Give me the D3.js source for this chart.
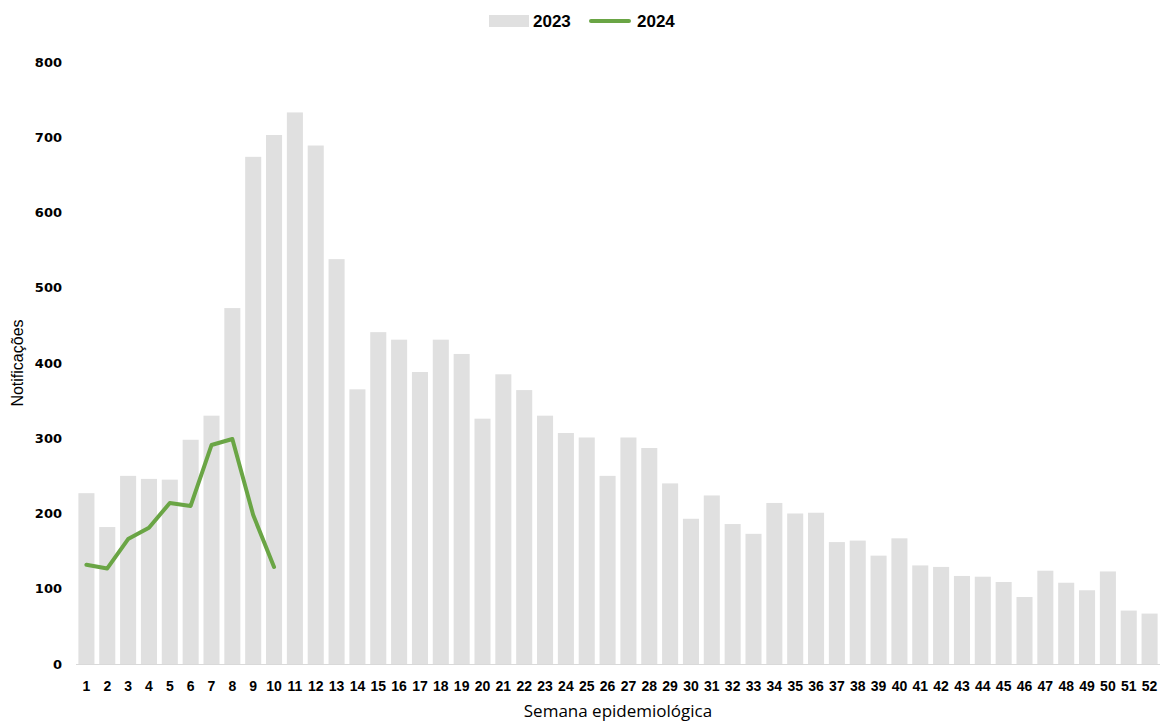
<!DOCTYPE html>
<html>
<head>
<meta charset="utf-8">
<script src="https://cdn.jsdelivr.net/npm/d3@7"></script>
<style>
  body { margin: 0; background: #fff; }
  svg { display: block; }
</style>
</head>
<body>
<div id="chart"></div>
<script>
const WIDTH = 1161;
const HEIGHT = 724;
const MARGINS = {left: 76, right: 1, top: 62, bottom: 60};

// weeks 1..52
const weeks = d3.range(1, 53);

// 2023 weekly notifications (bars)
const values2023 = [227, 182, 250, 246, 245, 298, 330, 473, 674, 703,
                    733, 689, 538, 365, 441, 431, 388, 431, 412, 326,
                    385, 364, 330, 307, 301, 250, 301, 287, 240, 193,
                    224, 186, 173, 214, 200, 201, 162, 164, 144, 167,
                    131, 129, 117, 116, 109, 89, 124, 108, 98, 123,
                    71, 67];

// 2024 weekly notifications (line, weeks 1..10)
const values2024 = [132, 127, 166, 181, 214, 210, 291, 299, 198, 129];

const yTicks = [0, 100, 200, 300, 400, 500, 600, 700, 800];

const VIS_WIDTH = WIDTH - MARGINS.left - MARGINS.right;
const VIS_HEIGHT = HEIGHT - MARGINS.top - MARGINS.bottom;

const svg = d3.select("#chart")
  .append("svg")
    .attr("width", WIDTH)
    .attr("height", HEIGHT);

const X_SCALE = d3.scaleBand()
  .domain(weeks)
  .range([MARGINS.left, MARGINS.left + VIS_WIDTH])
  .paddingInner(0.23)
  .paddingOuter(0.115);

const Y_SCALE = d3.scaleLinear()
  .domain([0, 800])
  .range([MARGINS.top + VIS_HEIGHT, MARGINS.top]);

// bars 2023
svg.selectAll(".bar")
  .data(weeks)
  .enter()
  .append("rect")
    .attr("class", "bar")
    .attr("x", d => X_SCALE(d))
    .attr("y", (d, i) => Y_SCALE(values2023[i]))
    .attr("width", X_SCALE.bandwidth())
    .attr("height", (d, i) => Y_SCALE(0) - Y_SCALE(values2023[i]))
    .attr("fill", "#e0e0e0");

// baseline
svg.append("line")
  .attr("x1", MARGINS.left)
  .attr("x2", MARGINS.left + VIS_WIDTH)
  .attr("y1", Y_SCALE(0) + 0.5)
  .attr("y2", Y_SCALE(0) + 0.5)
  .attr("stroke", "#d9d9d9")
  .attr("stroke-width", 1);

// line 2024
const line = d3.line()
  .x((d, i) => X_SCALE(weeks[i]) + X_SCALE.bandwidth() / 2)
  .y(d => Y_SCALE(d));

svg.append("path")
  .datum(values2024)
  .attr("d", line)
  .attr("fill", "none")
  .attr("stroke", "#6aa545")
  .attr("stroke-width", 4)
  .attr("stroke-linejoin", "round")
  .attr("stroke-linecap", "round");

// y axis
const yAxis = svg.append("g")
  .attr("transform", "translate(" + (MARGINS.left - 14) + ",0)")
  .call(d3.axisLeft(Y_SCALE).tickValues(yTicks).tickSize(0).tickPadding(0));
yAxis.select(".domain").remove();
yAxis.selectAll("text")
  .attr("font-family", "DejaVu Sans, sans-serif")
  .attr("font-weight", "bold")
  .attr("font-size", "13px")
  .attr("fill", "#000");

// x axis
const xAxis = svg.append("g")
  .attr("transform", "translate(0," + Y_SCALE(0) + ")")
  .call(d3.axisBottom(X_SCALE).tickSize(0).tickPadding(17));
xAxis.select(".domain").remove();
xAxis.selectAll("text")
  .attr("font-family", "Liberation Sans Narrow, Liberation Sans, sans-serif")
  .attr("font-weight", "bold")
  .attr("font-size", "14px")
  .attr("fill", "#000");

// axis titles
svg.append("text")
  .attr("transform", "translate(23,363) rotate(-90)")
  .attr("text-anchor", "middle")
  .attr("font-family", "Liberation Sans, sans-serif")
  .attr("font-size", "16px")
  .attr("fill", "#000")
  .text("Notificações");

svg.append("text")
  .attr("x", 618)
  .attr("y", 717)
  .attr("text-anchor", "middle")
  .attr("font-family", "Open Sans, sans-serif")
  .attr("font-size", "17px")
  .attr("fill", "#000")
  .text("Semana epidemiológica");

// legend
const legend = svg.append("g");
legend.append("rect")
  .attr("x", 489)
  .attr("y", 15)
  .attr("width", 40)
  .attr("height", 12)
  .attr("fill", "#e0e0e0");
legend.append("text")
  .attr("x", 533)
  .attr("y", 27)
  .attr("font-family", "Liberation Sans, sans-serif")
  .attr("font-weight", "bold")
  .attr("font-size", "17px")
  .attr("fill", "#000")
  .text("2023");
legend.append("line")
  .attr("x1", 591)
  .attr("x2", 629)
  .attr("y1", 21)
  .attr("y2", 21)
  .attr("stroke", "#6aa545")
  .attr("stroke-width", 4)
  .attr("stroke-linecap", "round");
legend.append("text")
  .attr("x", 637)
  .attr("y", 27)
  .attr("font-family", "Liberation Sans, sans-serif")
  .attr("font-weight", "bold")
  .attr("font-size", "17px")
  .attr("fill", "#000")
  .text("2024");
</script>
</body>
</html>
